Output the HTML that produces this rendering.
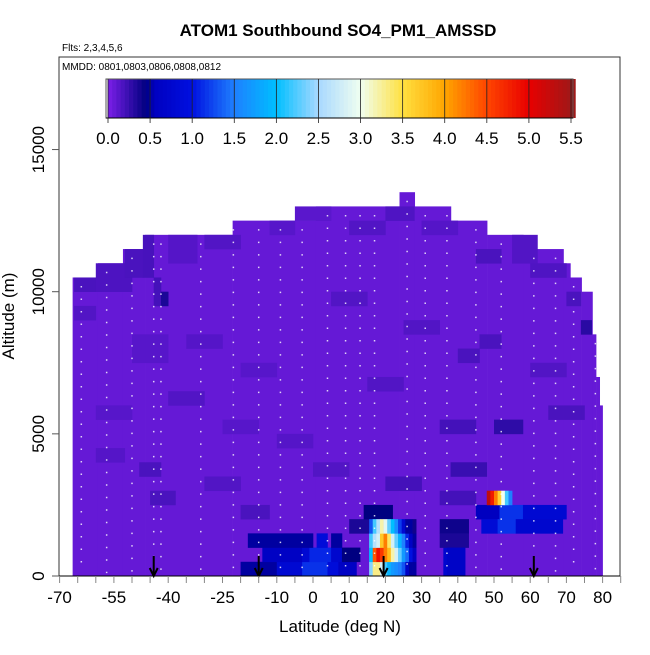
<!DOCTYPE html>
<html><head><meta charset="utf-8">
<style>
body{margin:0;background:#fff;}
svg text{font-family:"Liberation Sans",Arial,sans-serif;}
</style></head>
<body>
<svg id="chart" width="650" height="650" xmlns="http://www.w3.org/2000/svg">
<text x="338" y="36" font-size="17" font-weight="bold" text-anchor="middle">ATOM1 Southbound SO4_PM1_AMSSD</text>
<text x="62" y="51" font-size="10">Flts: 2,3,4,5,6</text>
<g id="heat"></g>
<g id="tracks"></g>
<g id="arrows"></g>
<rect x="59" y="57" width="561" height="519" fill="none" stroke="#333" stroke-width="1"/>
<text x="62" y="70" font-size="10">MMDD: 0801,0803,0806,0808,0812</text>
<g id="cbar"></g>
<g id="axes"></g>
<text x="340" y="632" font-size="17" text-anchor="middle">Latitude (deg N)</text>
<text x="14" y="316" font-size="17" text-anchor="middle" transform="rotate(-90 14 316)">Altitude (m)</text>
</svg>
<script>
// profile: column lat edges and top altitude
const colLat0 = [-66.4,-59.4,-52.5,-46.4,-22.2,0.8,23.9,28.1,38.1,48.1,58.1,69.2,71.1,74.2,77.2,78.2,79.2];
const colLat1 = [-59.4,-52.5,-46.4,-22.2,0.8,23.9,28.1,38.1,48.1,58.1,69.2,71.1,74.2,77.2,78.2,79.2,80.0];
const colTop  = [10500,11000,11500,12000,12500,13000,13500,13000,12500,12000,11500,11000,10500,10000,8500,7000,6000];
const baseVal = 0.08;
// anomaly rectangles: lat0, lat1, alt0, alt1, value
const recLat0 = [-66,-60,-52,-47,-44,-42,-40,-30,-12,-5,10,20,30,45,55,60,70,74,-66,-50,-35,-20,5,25,40,46,60,-60,-40,-25,-10,15,35,50,65,-30,0,20,38,-45,-20,10,-60,-48,
  -20,-10,-3,4,7,-14,-3,-1,5,8,-18,1,5,14,35,36,45,51.5,58,35,46.5,51,56,35,37];
const recLat1 = [-55,-50,-47,-44,-42,-40,-32,-20,-5,5,20,28,40,52,62,70,74,77,-60,-40,-25,-10,15,35,46,52,70,-50,-30,-15,0,25,45,58,75,-20,10,30,48,-38,-12,18,-52,-42,
  -10,-3,4,7,12,-3,-1,5,8,13,0,4,8,22,45,42,51.5,58,70,43,51,56,69,43,42];
const recAlt0 = [10000,10000,10500,10500,9500,9500,11000,11500,12000,12500,12000,12500,12000,11000,11000,10500,9500,8500,9000,7500,8000,7000,9500,8500,7500,8000,7000,5500,6000,5000,4500,6500,5000,5000,5500,3000,3500,3000,3500,2500,2000,1500,4000,3500,
  0,0,0,0,0,500,500,500,500,500,1000,1000,1000,2000,2500,0,2000,2000,2000,1500,1500,1500,1500,1000,0];
const recAlt1 = [10500,11000,11500,12000,10500,10000,12000,12000,12500,13000,12500,13000,12500,11500,12000,11000,10000,9000,9500,8500,8500,7500,10000,9000,8000,8500,7500,6000,6500,5500,5000,7000,5500,5500,6000,3500,4000,3500,4000,3000,2500,2000,4500,4000,
  500,500,500,500,500,1000,1000,1000,1000,1000,1500,1500,1500,2500,3000,1000,2500,2500,2500,2000,2000,2000,2000,1500,1000];
const recVal  = [0.18,0.17,0.18,0.19,0.2,0.35,0.14,0.15,0.13,0.12,0.15,0.16,0.14,0.18,0.15,0.16,0.18,0.3,0.15,0.13,0.14,0.13,0.15,0.15,0.18,0.18,0.15,0.13,0.15,0.13,0.14,0.15,0.2,0.28,0.18,0.15,0.15,0.2,0.24,0.18,0.18,0.35,0.14,0.18,
  0.5,0.8,1.15,0.9,0.6,0.6,0.8,1.1,0.75,0.45,0.5,0.9,0.5,0.45,0.2,0.75,0.55,1.15,0.8,0.4,0.85,1.15,0.75,0.35,0.65];
// hotspot rows (1-deg cells) near 16-29N
const hotLats = [16,17,18,19,20,21,22,23,24,25,26,27,28];
const hotRow0 = [2.4,3.3,3.3,2.8,2.2,1.9,1.7,1.6,1.5,1.3,0.6,0.5,0.5];   // 0-500 m
const hotRow1 = [2.0,4.4,4.9,4.6,4.2,3.8,3.2,2.8,2.3,1.7,1.4,1.0,0.6];   // 500-1000 m
const hotRow2 = [2.2,2.6,2.8,3.7,4.2,3.4,2.8,2.3,1.9,1.5,1.1,0.6,0.5];   // 1000-1500 m
const hotRow3 = [1.3,2.2,2.6,3.2,2.9,2.3,2.0,1.6,1.2,0.8,0.5,0.5,0.4];   // 1500-2000 m
// plume at 2500-3000 m near 48-55N
const plumeLats = [48,49,50,51,52,53,54];
const plumeVals = [5.3,4.8,4.2,3.6,3.0,2.2,1.5];
// flight track latitudes (vertical dotted profiles)
const trackLats = [-64,-57,-50,-44,-42,-31,-22,-15,-9,-3,4,9,13,17,26,31,37,45,52,61,67,72,78];
const arrowLats = [-44,-15,19.5,61];
const xTicks = [-70,-55,-40,-25,-10,0,10,20,30,40,50,60,70,80];
const yTicks = [0,5000,10000,15000];
const cbTicks = [0,0.5,1,1.5,2,2.5,3,3.5,4,4.5,5,5.5];

const NS="http://www.w3.org/2000/svg";
const X = lat => 313 + 3.62*lat;
const Y = alt => 576 - alt*0.02843;
const stopV=[0,0.45,0.55,1.0,1.5,2.0,2.5,3.0,3.5,4.0,4.5,5.0,5.5];
const stopC=["#7b1fe8","#000080","#0000c0","#0010e0","#1e80ff","#00bfff","#a8d8ff","#f0fff0","#ffe040","#ffa500","#ff4500","#e80000","#a01818"];
function hx(c){return [parseInt(c.substr(1,2),16),parseInt(c.substr(3,2),16),parseInt(c.substr(5,2),16)];}
function col(v){
  v=Math.max(0,Math.min(5.5,v));
  for(let i=0;i<stopV.length-1;i++){
    if(v<=stopV[i+1]){const t=(v-stopV[i])/(stopV[i+1]-stopV[i]);const a=hx(stopC[i]),b=hx(stopC[i+1]);
      return "rgb("+a.map((x,k)=>Math.round(x+(b[k]-x)*t)).join(",")+")";}
  }
  return stopC[stopC.length-1];
}
function mk(tag,attrs,parent){const e=document.createElementNS(NS,tag);for(const k in attrs)e.setAttribute(k,attrs[k]);parent.appendChild(e);return e;}
function cell(parent,l0,l1,a0,a1,v,name){
  const e=mk("rect",{x:X(l0),y:Y(a1),width:X(l1)-X(l0)+0.3,height:Y(a0)-Y(a1)+0.3,fill:col(v)},parent);
  
  
}
const heat=document.getElementById("heat");
colLat0.forEach((l,i)=>cell(heat,l,colLat1[i],0,colTop[i],baseVal,"heat-column"));
recLat0.forEach((l,i)=>cell(heat,l,recLat1[i],recAlt0[i],recAlt1[i],recVal[i],"heat-cell"));
[hotRow0,hotRow1,hotRow2,hotRow3].forEach((row,r)=>hotLats.forEach((l,i)=>cell(heat,l-0.5,l+0.5,r*500,r*500+500,row[i],"hot-cell")));
plumeLats.forEach((l,i)=>cell(heat,l,l+1,2500,3000,plumeVals[i],"plume-cell"));

const tracks=document.getElementById("tracks");
trackLats.forEach(l=>{
  let top=0;colLat0.forEach((c,i)=>{if(l>=c&&l<colLat1[i])top=colTop[i];});
  const e=mk("line",{x1:X(l),x2:X(l),y1:Y(top-300),y2:Y(100),stroke:"#fff","stroke-width":1.5,"stroke-dasharray":"1.5 11","stroke-opacity":0.8},tracks);
  
  
});

const arrows=document.getElementById("arrows");
arrowLats.forEach(l=>{
  const g=mk("g",{},arrows);
  
  
  mk("line",{x1:X(l),x2:X(l),y1:556,y2:575,stroke:"#000","stroke-width":2},g);
  mk("path",{d:`M${X(l)-4},568 L${X(l)},576 L${X(l)+4},568`,fill:"none",stroke:"#000","stroke-width":2},g);
});

const axes=document.getElementById("axes");
mk("line",{x1:59,x2:620,y1:576,y2:576,stroke:"#000","stroke-width":1},axes);
for(let l=-70;l<=85;l+=5){
  const t=mk("line",{x1:X(l),x2:X(l),y1:576,y2:583,stroke:"#888","stroke-width":1},axes);
  
  
}
xTicks.forEach(l=>{
  const t=mk("text",{x:X(l),y:603,"font-size":17,"text-anchor":"middle"},axes);t.textContent=l;
  
  
});
yTicks.forEach(a=>{
  mk("line",{x1:52,x2:59,y1:Y(a),y2:Y(a),stroke:"#555"},axes);
  const t=mk("text",{x:44,y:Y(a),"font-size":17,"text-anchor":"middle",transform:`rotate(-90 44 ${Y(a)})`},axes);t.textContent=a;
  
  
});

const cb=document.getElementById("cbar");
const cx=v=>108+v*(571-108)/5.5;
for(let v=0;v<5.5;v+=0.05){mk("rect",{x:cx(v),y:79,width:(571-108)/110+0.5,height:39,fill:col(v+0.025)},cb);}
mk("rect",{x:106,y:79,width:467,height:39,fill:"none",stroke:"#555"},cb);
mk("line",{x1:106,x2:573,y1:118,y2:118,stroke:"#000"},cb);
cbTicks.forEach(v=>{
  mk("line",{x1:cx(v),x2:cx(v),y1:79,y2:123,stroke:"#222","stroke-width":0.8},cb);
  const t=mk("text",{x:cx(v),y:144,"font-size":17,"text-anchor":"middle"},cb);t.textContent=v.toFixed(1);
  
  
});
</script>
</body></html>
